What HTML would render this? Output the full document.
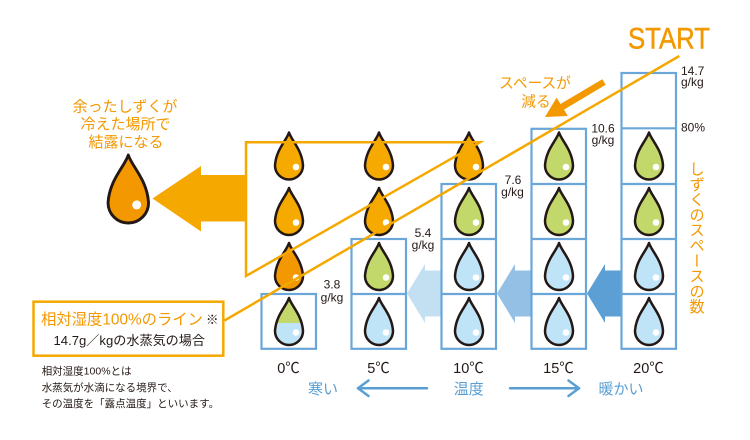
<!DOCTYPE html>
<html>
<head>
<meta charset="utf-8">
<style>
html,body{margin:0;padding:0;background:#fff;}
#wrap{position:relative;width:750px;height:440px;overflow:hidden;background:#fff;font-family:"Liberation Sans","Noto Sans CJK JP",sans-serif;}
svg{position:absolute;left:0;top:0;}
svg text{font-family:"Liberation Sans","Noto Sans CJK JP",sans-serif;}
#vt{position:absolute;left:687px;top:161px;writing-mode:vertical-rl;font-size:15.3px;line-height:16px;color:#f39800;white-space:nowrap;}
</style>
</head>
<body>
<div id="wrap">
<svg width="750" height="440" viewBox="0 0 750 440" xmlns="http://www.w3.org/2000/svg">
  <defs>
    <clipPath id="dc"><path d="M0,0 C2.5,8 13,17 14,33 A14,14 0 0 1 -14,33 C-13,17 -2.5,8 0,0 Z"/></clipPath>
  </defs>

  <!-- blue arrows between columns -->
  <polygon points="407,293.5 425,264 425,270.5 442,270.5 442,316.5 425,316.5 425,323" fill="#c3e0f3"/>
  <polygon points="497,293.5 515,264 515,270.5 532,270.5 532,316.5 515,316.5 515,323" fill="#94c0e5"/>
  <polygon points="587,293.5 605,264 605,270.5 622,270.5 622,316.5 605,316.5 605,323" fill="#5b9fd4"/>

  <!-- boxes -->
  <g fill="none" stroke="#6aa6d8" stroke-width="2.2">
    <rect x="261.5" y="294" width="54.5" height="54.8"/>
    <rect x="351.5" y="239" width="54.5" height="109.8"/>
    <line x1="351.5" y1="294" x2="406" y2="294"/>
    <rect x="441.5" y="184" width="54.5" height="164.8"/>
    <line x1="441.5" y1="239" x2="496" y2="239"/>
    <line x1="441.5" y1="294" x2="496" y2="294"/>
    <rect x="531.5" y="128.8" width="54.5" height="220"/>
    <line x1="531.5" y1="184" x2="586" y2="184"/>
    <line x1="531.5" y1="239" x2="586" y2="239"/>
    <line x1="531.5" y1="294" x2="586" y2="294"/>
    <rect x="621.5" y="73" width="54.5" height="275.8"/>
    <line x1="621.5" y1="128.3" x2="676" y2="128.3"/>
    <line x1="621.5" y1="184" x2="676" y2="184"/>
    <line x1="621.5" y1="239" x2="676" y2="239"/>
    <line x1="621.5" y1="294" x2="676" y2="294"/>
  </g>

  <!-- drops -->
  <g stroke="#231815" stroke-width="2.5" stroke-linejoin="round">
    <!-- 0C -->
    <g transform="translate(289,132.5)"><path d="M0,0 C2.5,8 13,17 14,33 A14,14 0 0 1 -14,33 C-13,17 -2.5,8 0,0 Z" fill="#f6aa00"/><circle cx="7" cy="34.5" r="3.3" fill="#fff" stroke="none"/></g>
    <g transform="translate(289,188)"><path d="M0,0 C2.5,8 13,17 14,33 A14,14 0 0 1 -14,33 C-13,17 -2.5,8 0,0 Z" fill="#f6aa00"/><circle cx="7" cy="34.5" r="3.3" fill="#fff" stroke="none"/></g>
    <g transform="translate(289,243)"><path d="M0,0 C2.5,8 13,17 14,33 A14,14 0 0 1 -14,33 C-13,17 -2.5,8 0,0 Z" fill="#f39800"/><circle cx="7" cy="34.5" r="3.3" fill="#fff" stroke="none"/></g>
    <g transform="translate(289,298)">
      <path d="M0,0 C2.5,8 13,17 14,33 A14,14 0 0 1 -14,33 C-13,17 -2.5,8 0,0 Z" fill="#bfe3f7" stroke="none"/>
      <rect x="-16" y="0" width="32" height="25" fill="#c2d86b" stroke="none" clip-path="url(#dc)"/>
      <path d="M0,0 C2.5,8 13,17 14,33 A14,14 0 0 1 -14,33 C-13,17 -2.5,8 0,0 Z" fill="none"/>
      <circle cx="7" cy="34.5" r="3.3" fill="#fff" stroke="none"/>
    </g>
    <!-- 5C -->
    <g transform="translate(379,132.5)"><path d="M0,0 C2.5,8 13,17 14,33 A14,14 0 0 1 -14,33 C-13,17 -2.5,8 0,0 Z" fill="#f6aa00"/><circle cx="7" cy="34.5" r="3.3" fill="#fff" stroke="none"/></g>
    <g transform="translate(379,188)"><path d="M0,0 C2.5,8 13,17 14,33 A14,14 0 0 1 -14,33 C-13,17 -2.5,8 0,0 Z" fill="#f6aa00"/><circle cx="7" cy="34.5" r="3.3" fill="#fff" stroke="none"/></g>
    <g transform="translate(379,243)"><path d="M0,0 C2.5,8 13,17 14,33 A14,14 0 0 1 -14,33 C-13,17 -2.5,8 0,0 Z" fill="#c2d86b"/><circle cx="7" cy="34.5" r="3.3" fill="#fff" stroke="none"/></g>
    <g transform="translate(379,298)"><path d="M0,0 C2.5,8 13,17 14,33 A14,14 0 0 1 -14,33 C-13,17 -2.5,8 0,0 Z" fill="#bfe3f7"/><circle cx="7" cy="34.5" r="3.3" fill="#fff" stroke="none"/></g>
    <!-- 10C -->
    <g transform="translate(469,132.5)"><path d="M0,0 C2.5,8 13,17 14,33 A14,14 0 0 1 -14,33 C-13,17 -2.5,8 0,0 Z" fill="#f6aa00"/><circle cx="7" cy="34.5" r="3.3" fill="#fff" stroke="none"/></g>
    <g transform="translate(469,188)"><path d="M0,0 C2.5,8 13,17 14,33 A14,14 0 0 1 -14,33 C-13,17 -2.5,8 0,0 Z" fill="#c2d86b"/><circle cx="7" cy="34.5" r="3.3" fill="#fff" stroke="none"/></g>
    <g transform="translate(469,243)"><path d="M0,0 C2.5,8 13,17 14,33 A14,14 0 0 1 -14,33 C-13,17 -2.5,8 0,0 Z" fill="#bfe3f7"/><circle cx="7" cy="34.5" r="3.3" fill="#fff" stroke="none"/></g>
    <g transform="translate(469,298)"><path d="M0,0 C2.5,8 13,17 14,33 A14,14 0 0 1 -14,33 C-13,17 -2.5,8 0,0 Z" fill="#bfe3f7"/><circle cx="7" cy="34.5" r="3.3" fill="#fff" stroke="none"/></g>
    <!-- 15C -->
    <g transform="translate(559,132.5)"><path d="M0,0 C2.5,8 13,17 14,33 A14,14 0 0 1 -14,33 C-13,17 -2.5,8 0,0 Z" fill="#c2d86b"/><circle cx="7" cy="34.5" r="3.3" fill="#fff" stroke="none"/></g>
    <g transform="translate(559,188)"><path d="M0,0 C2.5,8 13,17 14,33 A14,14 0 0 1 -14,33 C-13,17 -2.5,8 0,0 Z" fill="#c2d86b"/><circle cx="7" cy="34.5" r="3.3" fill="#fff" stroke="none"/></g>
    <g transform="translate(559,243)"><path d="M0,0 C2.5,8 13,17 14,33 A14,14 0 0 1 -14,33 C-13,17 -2.5,8 0,0 Z" fill="#bfe3f7"/><circle cx="7" cy="34.5" r="3.3" fill="#fff" stroke="none"/></g>
    <g transform="translate(559,298)"><path d="M0,0 C2.5,8 13,17 14,33 A14,14 0 0 1 -14,33 C-13,17 -2.5,8 0,0 Z" fill="#bfe3f7"/><circle cx="7" cy="34.5" r="3.3" fill="#fff" stroke="none"/></g>
    <!-- 20C -->
    <g transform="translate(649,132.5)"><path d="M0,0 C2.5,8 13,17 14,33 A14,14 0 0 1 -14,33 C-13,17 -2.5,8 0,0 Z" fill="#c2d86b"/><circle cx="7" cy="34.5" r="3.3" fill="#fff" stroke="none"/></g>
    <g transform="translate(649,188)"><path d="M0,0 C2.5,8 13,17 14,33 A14,14 0 0 1 -14,33 C-13,17 -2.5,8 0,0 Z" fill="#c2d86b"/><circle cx="7" cy="34.5" r="3.3" fill="#fff" stroke="none"/></g>
    <g transform="translate(649,243)"><path d="M0,0 C2.5,8 13,17 14,33 A14,14 0 0 1 -14,33 C-13,17 -2.5,8 0,0 Z" fill="#bfe3f7"/><circle cx="7" cy="34.5" r="3.3" fill="#fff" stroke="none"/></g>
    <g transform="translate(649,298)"><path d="M0,0 C2.5,8 13,17 14,33 A14,14 0 0 1 -14,33 C-13,17 -2.5,8 0,0 Z" fill="#bfe3f7"/><circle cx="7" cy="34.5" r="3.3" fill="#fff" stroke="none"/></g>
    <!-- big drop -->
    <g transform="translate(128.3,155) scale(1.447)"><path d="M0,0 C2.5,8 13,17 14,33 A14,14 0 0 1 -14,33 C-13,17 -2.5,8 0,0 Z" fill="#f39800" stroke-width="2"/><circle cx="5.8" cy="34.5" r="3.1" fill="#fff" stroke="none"/></g>
  </g>

  <!-- big orange arrow -->
  <polygon points="152.5,198.5 201,166 201,175 246,175 246,221.5 201,221.5 201,231.5" fill="#f5a800"/>
  <!-- orange triangle frame -->
  <polygon points="246,142.3 480,142.3 246,276" fill="none" stroke="#f5a800" stroke-width="2.5" stroke-linejoin="miter"/>
  <!-- long line from START -->
  <line x1="679.3" y1="56" x2="224.5" y2="320.5" stroke="#f5a800" stroke-width="2.5"/>
  <!-- small arrow -->
  <polygon points="545,117 567.8,116 564,109.6 605.7,84.8 602.3,79.2 560.4,104 556.6,97.6" fill="#f39800"/>

  <!-- bottom-left box -->
  <rect x="33.5" y="301.7" width="189.8" height="54" fill="#fff" stroke="#f5a800" stroke-width="2.5"/>
  <text x="41" y="324.5" font-size="15.5" fill="#f39800" textLength="162" lengthAdjust="spacingAndGlyphs">相対湿度100%のライン</text>
  <text x="206" y="324" font-size="12.5" fill="#231815">※</text>
  <text x="53.5" y="345" font-size="13" fill="#231815" textLength="151.5" lengthAdjust="spacingAndGlyphs">14.7g／kgの水蒸気の場合</text>
  <g font-size="10.5" fill="#231815">
    <text x="41.7" y="374.5">相対湿度100%とは</text>
    <text x="41.7" y="391.2">水蒸気が水滴になる境界で、</text>
    <text x="41.7" y="406.8">その温度を「露点温度」といいます。</text>
  </g>

  <!-- left caption -->
  <g font-size="15" fill="#f39800" text-anchor="middle">
    <text x="125" y="111.5">余ったしずくが</text>
    <text x="125.5" y="129">冷えた場所で</text>
    <text x="126" y="147">結露になる</text>
  </g>

  <!-- START -->
  <text x="628" y="48.3" font-size="30" fill="#f39800" stroke="#f39800" stroke-width="0.5" textLength="82" lengthAdjust="spacingAndGlyphs">START</text>
  <g font-size="14.7" fill="#f39800" text-anchor="middle">
    <text x="535" y="88">スペースが</text>
    <text x="536" y="106.5">減る</text>
  </g>

  <!-- values -->
  <g font-size="12" fill="#231815">
    <text x="681" y="75">14.7</text>
    <text x="681" y="85.8">g/kg</text>
    <text x="681" y="131.7">80%</text>
  </g>
  <g font-size="12" fill="#231815" text-anchor="middle">
    <text x="603" y="132.5">10.6</text>
    <text x="603" y="144">g/kg</text>
    <text x="513" y="184">7.6</text>
    <text x="512.5" y="196">g/kg</text>
    <text x="423" y="237">5.4</text>
    <text x="423" y="249">g/kg</text>
    <text x="332" y="288.6">3.8</text>
    <text x="332" y="301.3">g/kg</text>
  </g>

  <!-- temperatures -->
  <g font-size="14.5" fill="#231815" text-anchor="middle">
    <text x="288.5" y="373">0℃</text>
    <text x="378.5" y="373">5℃</text>
    <text x="468.5" y="373">10℃</text>
    <text x="558.5" y="373">15℃</text>
    <text x="648.5" y="373">20℃</text>
  </g>
  <g font-size="15" fill="#5a9fd4" text-anchor="middle">
    <text x="323" y="394">寒い</text>
    <text x="468.7" y="394">温度</text>
    <text x="621" y="394">暖かい</text>
  </g>
  <g stroke="#5a9fd4" stroke-width="2.5" fill="none" stroke-linecap="round" stroke-linejoin="round">
    <line x1="358" y1="388.3" x2="427" y2="388.3"/>
    <polyline points="368.5,380.5 358,388.3 368.5,396"/>
    <line x1="510" y1="388.3" x2="579" y2="388.3"/>
    <polyline points="568.5,380.5 579,388.3 568.5,396"/>
  </g>
</svg>
<div id="vt">しずくのスペースの数</div>
</div>
</body>
</html>
